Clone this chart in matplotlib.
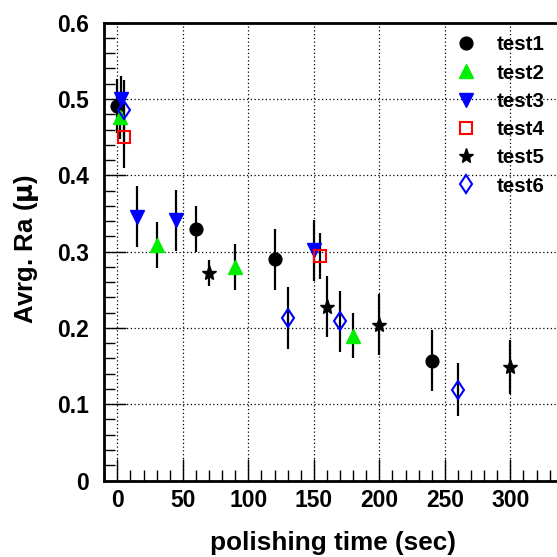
import matplotlib
matplotlib.use('Agg')
import matplotlib.pyplot as plt
from matplotlib.lines import Line2D
from matplotlib.ticker import MultipleLocator

plt.rcParams['font.family'] = ['Liberation Sans', 'DejaVu Sans']
plt.rcParams['font.weight'] = 'bold'
plt.rcParams['mathtext.fontset'] = 'dejavusans'

# polishing time (sec), average roughness and its uncertainty for each test
t1_x = [0, 60, 120, 240]
t1_y = [0.491, 0.330, 0.290, 0.157]
t1_e = [0.035, 0.030, 0.040, 0.040]

t2_x = [2, 30, 90, 180]
t2_y = [0.477, 0.309, 0.280, 0.190]
t2_e = [0.030, 0.030, 0.030, 0.030]

t3_x = [3, 15, 45, 150]
t3_y = [0.500, 0.346, 0.341, 0.302]
t3_e = [0.030, 0.040, 0.040, 0.040]

t4_x = [5, 155]
t4_y = [0.450, 0.294]
t4_e = [0.040, 0.030]

t5_x = [70, 160, 200, 300]
t5_y = [0.272, 0.228, 0.204, 0.149]
t5_e = [0.017, 0.040, 0.040, 0.035]

t6_x = [5, 130, 170, 260]
t6_y = [0.485, 0.213, 0.209, 0.119]
t6_e = [0.040, 0.040, 0.040, 0.035]

labels = ['test1', 'test2', 'test3', 'test4', 'test5', 'test6']

styles = [
    dict(marker='o', ms=9.2, mfc='black', mec='black'),
    dict(marker='^', ms=9.5, mfc='#00ee00', mec='#00ee00'),
    dict(marker='v', ms=9.5, mfc='#0000ff', mec='#0000ff'),
    dict(marker='s', ms=8.6, mfc='none', mec='#ff0000', mew=1.5),
    dict(marker='*', ms=11, mfc='black', mec='black'),
    dict(marker='d', ms=9.5, mfc='none', mec='#0000ff', mew=1.5),
]

series = [(t1_x, t1_y, t1_e), (t2_x, t2_y, t2_e), (t3_x, t3_y, t3_e),
          (t4_x, t4_y, t4_e), (t5_x, t5_y, t5_e), (t6_x, t6_y, t6_e)]

fig = plt.figure(figsize=(5.57, 5.57), dpi=100)
W = H = 557.0
ax = fig.add_axes([104 / W, (H - 480.5) / H, (W - 104) / W, (480.5 - 22.7) / H])

for (x, y, e), st in zip(series, styles):
    ax.errorbar(x, y, yerr=e, fmt='none', ecolor='black', elinewidth=1.6,
                capsize=0, zorder=2)
    ax.plot(x, y, linestyle='none', zorder=3, **st)

ax.set_xlim(-10.2, 335.6)
ax.set_ylim(0, 0.6)

ax.xaxis.set_major_locator(MultipleLocator(50))
ax.xaxis.set_minor_locator(MultipleLocator(10))
ax.yaxis.set_major_locator(MultipleLocator(0.1))
ax.yaxis.set_minor_locator(MultipleLocator(0.02))
ax.yaxis.set_major_formatter(plt.FuncFormatter(lambda v, p: '0' if abs(v) < 1e-9 else f'{v:.1f}'))

ax.tick_params(which='major', direction='in', length=16, width=1.0,
               labelsize=16.5, top=False, right=False, pad=6)
ax.tick_params(which='minor', direction='in', length=8, width=1.0,
               top=False, right=False)
ax.tick_params(axis='y', which='major', pad=11)
for lab in ax.get_xticklabels() + ax.get_yticklabels():
    lab.set_fontweight('bold')

ax.grid(True, which='major', linestyle=(0, (1, 2)), color='black', linewidth=0.9)
ax.set_axisbelow(True)

for side in ['left', 'bottom', 'top']:
    ax.spines[side].set_linewidth(2.0)
ax.spines['right'].set_visible(False)

fig.text(333 / W, 1 - 543 / H, 'polishing time (sec)', ha='center', va='center',
         fontsize=18.8, fontweight='bold')
fig.text(27 / W, 1 - 249 / H, r'Avrg. Ra ($\mathrm{\mu}$)', ha='center', va='center',
         rotation=90, fontsize=18.5, fontweight='bold')

handles = [Line2D([], [], linestyle='none', **st) for st in styles]
leg = ax.legend(handles, labels, loc='upper left',
                bbox_to_anchor=(440 / W, 1 - 25 / H), bbox_transform=fig.transFigure,
                frameon=False, fontsize=14.8, handletextpad=0.75, labelspacing=0.45,
                borderpad=0, handlelength=1.5, markerscale=1.0)
for t in leg.get_texts():
    t.set_fontweight('bold')

fig.savefig('out.png', dpi=100)
